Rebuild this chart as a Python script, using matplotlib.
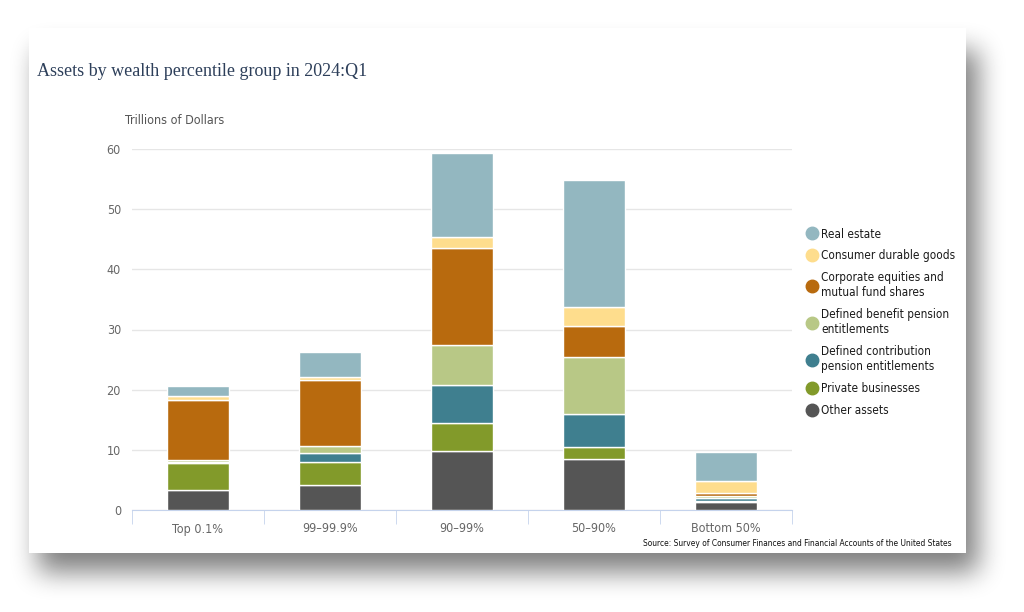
import numpy as np
import matplotlib
matplotlib.use("Agg")
from matplotlib import pyplot
from matplotlib.lines import Line2D
from matplotlib.patches import Rectangle

groups = ["Top 0.1%", "99–99.9%", "90–99%", "50–90%", "Bottom 50%"]

# trillions of dollars, stacked bottom to top
other_assets = [3.4, 4.1, 9.8, 8.4, 1.3]
private_businesses = [4.4, 3.9, 4.7, 2.1, 0.2]
defined_contribution = [0.15, 1.5, 6.2, 5.4, 0.5]
defined_benefit = [0.35, 1.1, 6.8, 9.5, 0.4]
corporate_equities = [10.0, 11.0, 16.0, 5.1, 0.5]
consumer_durables = [0.6, 0.45, 1.8, 3.3, 1.9]
real_estate = [1.7, 4.2, 14.0, 21.0, 4.8]

series = [
    ("Other assets", other_assets, "#555555"),
    ("Private businesses", private_businesses, "#829a2a"),
    ("Defined contribution\npension entitlements", defined_contribution, "#3f7f8f"),
    ("Defined benefit pension\nentitlements", defined_benefit, "#b8c886"),
    ("Corporate equities and\nmutual fund shares", corporate_equities, "#b86a0e"),
    ("Consumer durable goods", consumer_durables, "#fedd8d"),
    ("Real estate", real_estate, "#93b7c0"),
]

NARROW = dict(family=["DejaVu Sans"], stretch="condensed")


def box_blur(arr, radius, passes=3):
    k = np.ones(2 * radius + 1) / (2 * radius + 1)
    for _ in range(passes):
        arr = np.apply_along_axis(lambda r: np.convolve(r, k, mode="same"), 0, arr)
        arr = np.apply_along_axis(lambda r: np.convolve(r, k, mode="same"), 1, arr)
    return arr


def draw_card(figure):
    bg = figure.add_axes([0, 0, 1, 1], zorder=-10)
    bg.set_xlim(0, 1024)
    bg.set_ylim(612, 0)
    bg.axis("off")

    # soft drop shadow behind the white card, heaviest below
    shadow = np.zeros((612, 1024))
    shadow[50:572, 38:978] = 1.0
    shadow = box_blur(shadow, 12)
    bg.imshow(1 - 0.5 * shadow, cmap="gray", vmin=0, vmax=1,
              extent=(0, 1024, 612, 0), aspect="auto", interpolation="bilinear")
    bg.add_patch(Rectangle((29, 28), 937, 525, facecolor="white", edgecolor="none"))


def main():
    figure = pyplot.figure(figsize=(10.24, 6.12), dpi=100)
    draw_card(figure)

    axis = figure.add_axes([132 / 1024, 1 - 510 / 612, 660 / 1024, 361 / 612])
    axis.set_facecolor("none")

    x = np.arange(len(groups))
    bottom = np.zeros(len(groups))
    handles = []
    for label, values, color in series:
        axis.bar(x, values, width=0.475, bottom=bottom, color=color,
                 edgecolor="white", linewidth=1.0, zorder=3)
        bottom += np.array(values)
        handles.append(Line2D([], [], marker="o", linestyle="none", markersize=9,
                              markerfacecolor=color, markeredgecolor=color, label=label))

    axis.set_xlim(-0.5, len(groups) - 0.5)
    axis.set_ylim(0, 60)
    axis.set_yticks(range(0, 61, 10))
    axis.grid(axis="y", color="#e6e6e6", linewidth=1.0, zorder=0)

    for side in ["top", "right", "left"]:
        axis.spines[side].set_visible(False)
    axis.spines["bottom"].set_color("#c5d3ec")

    axis.set_xticks(x)
    axis.set_xticklabels(groups, fontsize=9, color="#666666", **NARROW)
    axis.set_xticks(np.arange(-0.5, len(groups)), minor=True)
    axis.tick_params(axis="x", which="major", length=0, pad=9)
    axis.tick_params(axis="x", which="minor", length=10, color="#c5d3ec")
    axis.tick_params(axis="y", length=0, pad=8, labelcolor="#666666", labelsize=9)
    for t in axis.get_yticklabels():
        t.set_family(NARROW["family"])
        t.set_stretch(NARROW["stretch"])

    figure.text(37 / 1024, 1 - 72 / 612, "Assets by wealth percentile group in 2024:Q1",
                family=["Liberation Serif", "DejaVu Serif"], fontsize=13,
                color="#2d3f5a", va="center", ha="left")
    figure.text(125 / 1024, 1 - 120 / 612, "Trillions of Dollars",
                fontsize=9, color="#555555", va="center", ha="left", **NARROW)
    figure.text(952 / 1024, 1 - 543 / 612,
                "Source: Survey of Consumer Finances and Financial Accounts of the United States",
                fontsize=6, color="#111111", va="center", ha="right", **NARROW)

    legend = figure.legend(handles=handles[::-1], loc="upper left",
                           bbox_to_anchor=(795 / 1024, 1 - 217 / 612), frameon=False,
                           prop=dict(size=8.5, **NARROW),
                           handletextpad=0.3, labelspacing=0.75, handlelength=1.0)
    for text in legend.get_texts():
        text.set_color("#1a1a1a")

    figure.savefig("out.png", dpi=100)


if __name__ == "__main__":
    main()
